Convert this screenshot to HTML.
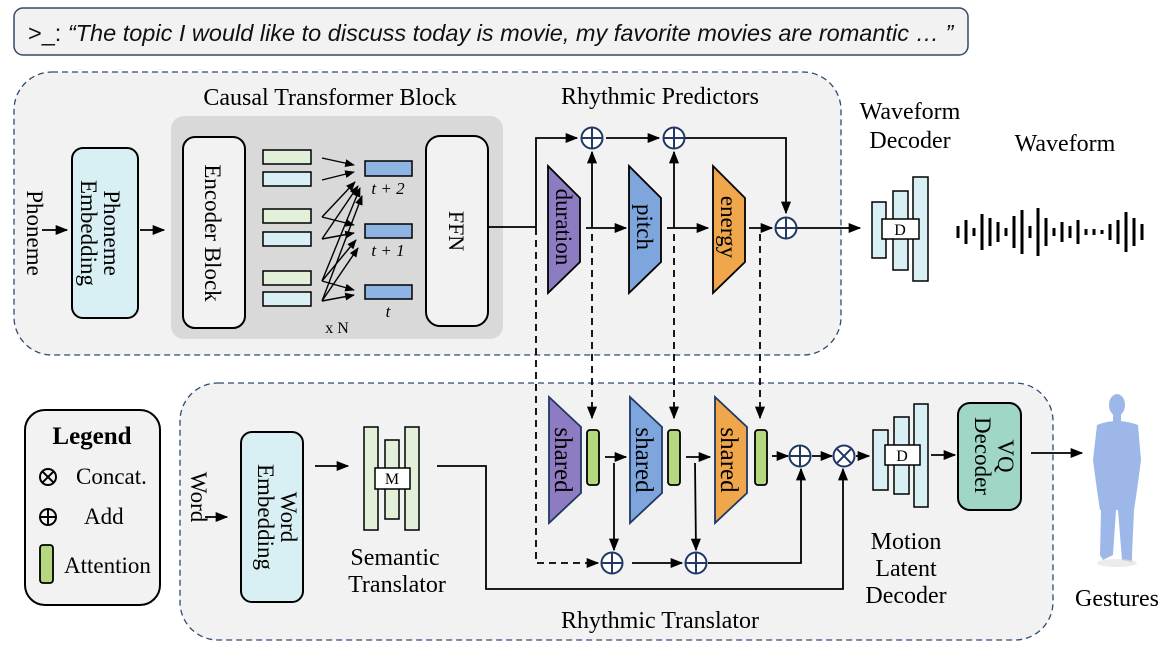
<!DOCTYPE html>
<html><head><meta charset="utf-8"><style>
body{margin:0;background:#fff;}
svg{display:block;font-family:"Liberation Serif",serif;}
</style></head><body>
<svg width="1170" height="654" viewBox="0 0 1170 654" xmlns="http://www.w3.org/2000/svg">
<defs>
<marker id="a" viewBox="0 0 10 10" refX="9" refY="5" markerWidth="7" markerHeight="7" orient="auto"><path d="M0,1 L10,5 L0,9 z" fill="#000"/></marker>
</defs>
<!-- top text box -->
<rect x="14" y="8" width="954" height="47" rx="9" fill="#f2f2f2" stroke="#334a6a" stroke-width="1.5"/>
<text x="28" y="41" font-family="Liberation Sans, sans-serif" font-size="23.5" font-style="italic" fill="#111"><tspan font-style="normal">&gt;_:</tspan> “The topic I would like to discuss today is movie, my favorite movies are romantic … ”</text>

<!-- panels -->
<rect x="14" y="72" width="827" height="283" rx="38" fill="#f2f2f2" stroke="#2f4a73" stroke-width="1.3" stroke-dasharray="6,4"/>
<rect x="180" y="383" width="873" height="257" rx="38" fill="#f2f2f2" stroke="#2f4a73" stroke-width="1.3" stroke-dasharray="6,4"/>

<!-- Phoneme -->
<text transform="translate(27,233) rotate(90)" text-anchor="middle" font-size="23">Phoneme</text>
<line x1="42" y1="230" x2="67" y2="230" stroke="#000" stroke-width="1.8" marker-end="url(#a)"/>
<rect x="72" y="148" width="66" height="170" rx="11" fill="#d8eff3" stroke="#000" stroke-width="2"/>
<text transform="translate(104,233) rotate(90)" text-anchor="middle" font-size="23">Phoneme</text>
<text transform="translate(81,233) rotate(90)" text-anchor="middle" font-size="23">Embedding</text>
<line x1="140" y1="230" x2="164" y2="230" stroke="#000" stroke-width="1.8" marker-end="url(#a)"/>

<!-- Causal transformer -->
<text x="330" y="105" text-anchor="middle" font-size="24">Causal Transformer Block</text>
<rect x="171" y="116" width="332" height="223" rx="13" fill="#d9d9d9"/>
<rect x="183" y="137" width="62" height="191" rx="12" fill="#f2f2f2" stroke="#000" stroke-width="2"/>
<text transform="translate(205,233) rotate(90)" text-anchor="middle" font-size="23">Encoder Block</text>
<rect x="426" y="136" width="62" height="190" rx="14" fill="#f2f2f2" stroke="#000" stroke-width="2"/>
<text transform="translate(449,231) rotate(90)" text-anchor="middle" font-size="22">FFN</text>
<g stroke="#000" stroke-width="1.5">
<rect x="263" y="150" width="48" height="14" fill="#e2efd9"/>
<rect x="263" y="172" width="48" height="14" fill="#d8eff3"/>
<rect x="263" y="209" width="48" height="14" fill="#e2efd9"/>
<rect x="263" y="232" width="48" height="14" fill="#d8eff3"/>
<rect x="263" y="271" width="48" height="14" fill="#e2efd9"/>
<rect x="263" y="292" width="48" height="14" fill="#d8eff3"/>
<rect x="365" y="161" width="47" height="15" fill="#8db4e2"/>
<rect x="365" y="224" width="47" height="14" fill="#8db4e2"/>
<rect x="365" y="285" width="47" height="14" fill="#8db4e2"/>
</g>
<g stroke="#000" stroke-width="1.4" marker-end="url(#a)">
<line x1="322" y1="158" x2="354" y2="165"/>
<line x1="322" y1="180" x2="354" y2="172"/>
<line x1="322" y1="217" x2="355" y2="182"/>
<line x1="322" y1="239" x2="358" y2="186"/>
<line x1="322" y1="281" x2="360" y2="188"/>
<line x1="322" y1="301" x2="362" y2="196"/>
<line x1="322" y1="217" x2="354" y2="225"/>
<line x1="322" y1="239" x2="354" y2="233"/>
<line x1="322" y1="281" x2="356" y2="240"/>
<line x1="322" y1="301" x2="358" y2="248"/>
<line x1="322" y1="281" x2="354" y2="290"/>
<line x1="322" y1="301" x2="354" y2="295"/>
</g>
<text x="388" y="194" text-anchor="middle" font-size="17" font-style="italic">t + 2</text>
<text x="388" y="256" text-anchor="middle" font-size="17" font-style="italic">t + 1</text>
<text x="388" y="317" text-anchor="middle" font-size="17" font-style="italic">t</text>
<text x="337" y="333" text-anchor="middle" font-size="16">x N</text>

<!-- Rhythmic predictors -->
<text x="660" y="104" text-anchor="middle" font-size="24">Rhythmic Predictors</text>
<g stroke="#000" stroke-width="1.8" fill="none">
<polyline points="488,227 536,227 536,138 577,138" marker-end="url(#a)"/>
<line x1="606" y1="138" x2="659" y2="138" marker-end="url(#a)"/>
<polyline points="685,138 786,138 786,213" marker-end="url(#a)"/>
<line x1="586" y1="228" x2="626" y2="228" marker-end="url(#a)"/>
<line x1="592" y1="228" x2="592" y2="152" marker-end="url(#a)"/>
<line x1="667" y1="228" x2="708" y2="228" marker-end="url(#a)"/>
<line x1="674" y1="228" x2="674" y2="152" marker-end="url(#a)"/>
<line x1="749" y1="228" x2="772" y2="228" marker-end="url(#a)"/>
<line x1="797" y1="228" x2="860" y2="228" marker-end="url(#a)"/>
</g>
<g stroke="#000" stroke-width="1.8" fill="none" stroke-dasharray="7,5">
<polyline points="536,228 536,563 598,563" marker-end="url(#a)"/>
<line x1="592" y1="234" x2="592" y2="418" marker-end="url(#a)"/>
<line x1="674" y1="234" x2="674" y2="418" marker-end="url(#a)"/>
<line x1="760" y1="234" x2="760" y2="418" marker-end="url(#a)"/>
</g>
<g stroke="#000" stroke-width="1.8">
<path d="M548,166 L580,198 L580,262 L548,293 Z" fill="#8e7cc3"/>
<path d="M629,166 L661,198 L661,262 L629,293 Z" fill="#7ea6dc"/>
<path d="M713,166 L745,198 L745,262 L713,293 Z" fill="#f0a64a"/>
</g>
<text transform="translate(556,227) rotate(90)" text-anchor="middle" font-size="23">duration</text>
<text transform="translate(637,227) rotate(90)" text-anchor="middle" font-size="23">pitch</text>
<text transform="translate(721,227) rotate(90)" text-anchor="middle" font-size="23">energy</text>

<!-- bottom trapezoids -->
<g stroke="#1f3864" stroke-width="1.8">
<path d="M549,397 L581,427 L581,493 L549,523 Z" fill="#8e7cc3"/>
<path d="M630,397 L662,427 L662,493 L630,523 Z" fill="#7ea6dc"/>
<path d="M715,397 L747,427 L747,493 L715,523 Z" fill="#f0a64a"/>
</g>
<text transform="translate(555,460) rotate(90)" text-anchor="middle" font-size="25">shared</text>
<text transform="translate(636,460) rotate(90)" text-anchor="middle" font-size="25">shared</text>
<text transform="translate(721,460) rotate(90)" text-anchor="middle" font-size="25">shared</text>
<g stroke="#000" stroke-width="1.8" fill="#b5d77f">
<rect x="587" y="430" width="12" height="55" rx="3"/>
<rect x="668" y="430" width="12" height="55" rx="3"/>
<rect x="755" y="430" width="12" height="55" rx="3"/>
</g>
<g stroke="#000" stroke-width="1.8" fill="none">
<line x1="605" y1="457" x2="626" y2="457" marker-end="url(#a)"/>
<line x1="686" y1="457" x2="710" y2="457" marker-end="url(#a)"/>
<line x1="772" y1="456" x2="788" y2="456" marker-end="url(#a)"/>
<line x1="812" y1="456" x2="832" y2="456" marker-end="url(#a)"/>
<line x1="856" y1="456" x2="869" y2="456" marker-end="url(#a)"/>
<line x1="614" y1="463" x2="614" y2="550" marker-end="url(#a)"/>
<line x1="695" y1="463" x2="696" y2="550" marker-end="url(#a)"/>
<line x1="632" y1="563" x2="682" y2="563" marker-end="url(#a)"/>
<polyline points="708,563 801,563 801,469" marker-end="url(#a)"/>
<polyline points="437,466 486,466 486,589 843,589 843,469" marker-end="url(#a)"/>
<line x1="315" y1="466" x2="348" y2="466" marker-end="url(#a)"/>
<line x1="205" y1="517" x2="227" y2="517" marker-end="url(#a)"/>
<line x1="931" y1="455" x2="955" y2="455" marker-end="url(#a)"/>
<line x1="1031" y1="453" x2="1082" y2="453" marker-end="url(#a)"/>
</g>
<!-- circles -->
<g stroke="#1f3864" stroke-width="2" fill="#fff">
<circle cx="592" cy="138" r="10.5"/><path d="M581.5,138 H602.5 M592,127.5 V148.5"/>
<circle cx="674" cy="138" r="10.5"/><path d="M663.5,138 H684.5 M674,127.5 V148.5"/>
<circle cx="786" cy="228" r="10.5"/><path d="M775.5,228 H796.5 M786,217.5 V238.5"/>
<circle cx="800" cy="456" r="10.5"/><path d="M789.5,456 H810.5 M800,445.5 V466.5"/>
<circle cx="612" cy="563" r="10.5"/><path d="M601.5,563 H622.5 M612,552.5 V573.5"/>
<circle cx="696" cy="563" r="10.5"/><path d="M685.5,563 H706.5 M696,552.5 V573.5"/>
<circle cx="844" cy="456" r="10.5"/><path d="M836.6,448.6 L851.4,463.4 M851.4,448.6 L836.6,463.4"/>
</g>

<!-- waveform decoder -->
<text x="910" y="119" text-anchor="middle" font-size="24">Waveform</text>
<text x="910" y="148" text-anchor="middle" font-size="24">Decoder</text>
<g stroke="#000" stroke-width="1.5" fill="#d8eff3">
<rect x="872" y="202" width="14" height="56"/>
<rect x="893" y="191" width="15" height="79"/>
<rect x="913" y="177" width="15" height="104"/>
<rect x="882" y="219" width="37" height="20" fill="#fff"/>
</g>
<text x="900" y="235" text-anchor="middle" font-size="16">D</text>
<text x="1065" y="151" text-anchor="middle" font-size="24">Waveform</text>
<g stroke="#000" stroke-width="3">
<path d="M958,226V238 M966,220V244 M974,228V236 M982,214V250 M990,218V246 M998,222V242 M1006,228V236 M1014,216V248 M1022,210V254 M1030,226V238 M1038,208V256 M1046,218V246 M1054,228V236 M1062,222V242 M1070,226V238 M1078,220V244 M1086,229V235 M1094,229V235 M1102,230V234 M1110,224V240 M1118,220V244 M1126,212V252 M1134,218V246 M1142,224V240"/>
</g>

<!-- legend -->
<rect x="25" y="410" width="135" height="195" rx="20" fill="#f2f2f2" stroke="#000" stroke-width="2"/>
<text x="92" y="444" text-anchor="middle" font-size="25" font-weight="bold">Legend</text>
<g stroke="#000" stroke-width="2" fill="none">
<circle cx="48" cy="477" r="8"/><path d="M42.3,471.3 L53.7,482.7 M53.7,471.3 L42.3,482.7"/>
<circle cx="48" cy="517" r="8"/><path d="M40,517 H56 M48,509 V525"/>
</g>
<text x="76" y="484" font-size="23">Concat.</text>
<text x="84" y="524" font-size="23">Add</text>
<rect x="40" y="545" width="13" height="38" rx="3" fill="#b5d77f" stroke="#000" stroke-width="1.8"/>
<text x="64" y="573" font-size="23">Attention</text>

<!-- word -->
<text transform="translate(191,497) rotate(90)" text-anchor="middle" font-size="23">Word</text>
<rect x="241" y="432" width="62" height="170" rx="11" fill="#d8eff3" stroke="#000" stroke-width="2"/>
<text transform="translate(281,517) rotate(90)" text-anchor="middle" font-size="23">Word</text>
<text transform="translate(258,517) rotate(90)" text-anchor="middle" font-size="23">Embedding</text>
<g stroke="#000" stroke-width="1.5" fill="#e2efd9">
<rect x="364" y="427" width="14" height="103"/>
<rect x="385" y="440" width="14" height="79"/>
<rect x="405" y="427" width="14" height="103"/>
<rect x="375" y="468" width="35" height="21" fill="#fff"/>
</g>
<text x="392" y="484" text-anchor="middle" font-size="16">M</text>
<text x="395" y="565" text-anchor="middle" font-size="24">Semantic</text>
<text x="397" y="592" text-anchor="middle" font-size="24">Translator</text>
<text x="660" y="628" text-anchor="middle" font-size="24">Rhythmic Translator</text>

<!-- motion latent decoder -->
<g stroke="#000" stroke-width="1.5" fill="#d8eff3">
<rect x="873" y="430" width="15" height="60"/>
<rect x="894" y="417" width="15" height="77"/>
<rect x="914" y="404" width="14" height="103"/>
<rect x="885" y="445" width="35" height="20" fill="#fff"/>
</g>
<text x="902" y="461" text-anchor="middle" font-size="16">D</text>
<text x="906" y="549" text-anchor="middle" font-size="24">Motion</text>
<text x="906" y="576" text-anchor="middle" font-size="24">Latent</text>
<text x="906" y="603" text-anchor="middle" font-size="24">Decoder</text>
<rect x="958" y="403" width="63" height="107" rx="12" fill="#9fd6c8" stroke="#000" stroke-width="2"/>
<text transform="translate(998,456) rotate(90)" text-anchor="middle" font-size="23">VQ</text>
<text transform="translate(975,456) rotate(90)" text-anchor="middle" font-size="23">Decoder</text>

<!-- human figure -->
<g fill="#9db8e8">
<ellipse cx="1117" cy="405" rx="8" ry="11"/>
<rect x="1113" y="412" width="8" height="10"/>
<path d="M1097,425 Q1117,417 1138,425 L1141,460 L1137,490 L1134,510 L1100,510 L1097,490 L1093,460 Z"/>
<path d="M1101,510 L1116,510 L1113,555 L1103,560 L1100,555 Z"/>
<path d="M1118,510 L1134,510 L1132,555 L1132,562 L1122,560 Z"/>
</g>
<ellipse cx="1117" cy="563" rx="20" ry="4" fill="#ddd" opacity="0.6"/>
<text x="1117" y="606" text-anchor="middle" font-size="24">Gestures</text>
</svg>
</body></html>
